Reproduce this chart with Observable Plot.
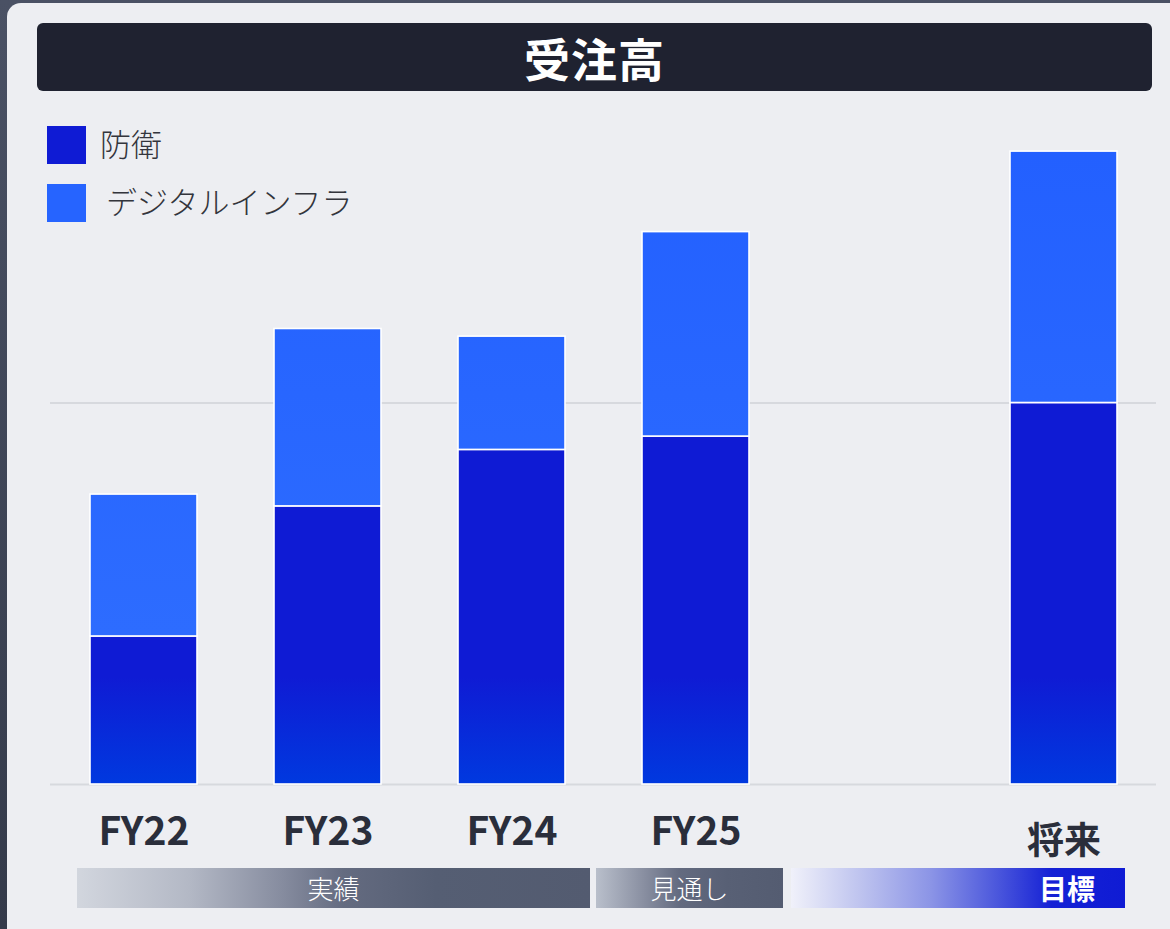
<!DOCTYPE html>
<html lang="ja">
<head>
<meta charset="utf-8">
<script src="https://cdn.jsdelivr.net/npm/d3@7"></script>
<script src="https://cdn.jsdelivr.net/npm/@observablehq/plot@0.6"></script>
<style>
  html, body { margin: 0; padding: 0; }
  body { width: 1170px; height: 929px; overflow: hidden; background: linear-gradient(to bottom, #4a5164, #343a4a); position: relative;
         font-family: "Noto Sans CJK JP", "Noto Sans", sans-serif; }
  #panel { position: absolute; left: 7px; top: 3px; width: 1180px; height: 940px; background: #edeef2; border-radius: 14px; }
  #title { position: absolute; left: 37px; top: 23px; width: 1115px; height: 68px; background: #1f2230; border-radius: 6px;
           color: #fff; font-weight: 700; font-size: 46px; line-height: 68px; text-align: center; letter-spacing: 1px; }
  .sw { position: absolute; left: 47px; width: 39px; height: 38px; }
  .lt { position: absolute; font-size: 31px; color: #33353c; line-height: 38px; font-weight: 300; }
  #chart { position: absolute; left: 0; top: 100px; }
  .band { position: absolute; top: 868px; height: 40px; color: #fff; font-size: 26px; line-height: 40px; text-align: center; font-weight: 300; }
</style>
</head>
<body>
<div id="panel"></div>
<div id="title">受注高</div>
<div id="legend"></div>
<div id="chart"></div>
<div id="bands"></div>
<script>
// ---- data ----
const years = ["FY22", "FY23", "FY24", "FY25", "将来"];
const slots = ["FY22", "FY23", "FY24", "FY25", "gap", "将来"];
const series = ["防衛", "デジタルインフラ"];
const defense = [388, 729, 877, 912, 1000];
const infra = [372, 465, 297, 536, 659];
const gridValues = [0, 1000];
const seriesColors = ["#0f1bd4", "#2664ff"];
const phases = ["実績", "見通し", "目標"];

const rows = years.flatMap((yr, i) => [
  {year: yr, series: series[0], value: defense[i]},
  {year: yr, series: series[1], value: infra[i]}
]);

// ---- legend ----
const legend = document.getElementById("legend");
series.forEach((s, i) => {
  const top = i === 0 ? 126 : 184;
  const sw = document.createElement("div");
  sw.className = "sw"; sw.style.top = top + "px"; sw.style.background = seriesColors[i];
  legend.appendChild(sw);
  const t = document.createElement("div");
  t.className = "lt"; t.style.top = (top - 2) + "px"; t.style.left = (i === 0 ? 100 : 106) + "px";
  t.textContent = s;
  legend.appendChild(t);
});

// ---- chart ----
const font = "Noto Sans CJK JP";
const defsMark = (index, scales) => {
  const defs = d3.create("svg:defs");
  const g1 = defs.append("linearGradient").attr("id", "gDef").attr("gradientUnits", "userSpaceOnUse")
    .attr("x1", 0).attr("x2", 0).attr("y1", scales.y(280)).attr("y2", scales.y(0));
  g1.append("stop").attr("offset", "0%").attr("stop-color", "#0f1bd4");
  g1.append("stop").attr("offset", "100%").attr("stop-color", "#0039df");
  const g2 = defs.append("linearGradient").attr("id", "gInf").attr("gradientUnits", "userSpaceOnUse")
    .attr("x1", 0).attr("x2", 0).attr("y1", scales.y(1650)).attr("y2", scales.y(400));
  g2.append("stop").attr("offset", "0%").attr("stop-color", "#2360ff");
  g2.append("stop").attr("offset", "100%").attr("stop-color", "#2d6cff");
  return defs.node();
};

const plot = Plot.plot({
  width: 1170,
  height: 760,
  marginLeft: 50,
  marginRight: 14,
  marginTop: 0,
  marginBottom: 0,
  style: {background: "transparent", overflow: "visible", fontFamily: font},
  x: {domain: slots, paddingInner: 0.42, paddingOuter: 0.21, axis: null},
  y: {domain: [0, 1000], range: [684, 302.5], axis: null},
  color: {domain: series, range: ["url(#gDef)", "url(#gInf)"]},
  marks: [
    defsMark,
    Plot.ruleY(gridValues, {stroke: "#d7d9de", strokeWidth: 2}),
    Plot.barY(rows, {x: "year", y: "value", fill: "series", order: series, stroke: "#ffffff", strokeWidth: 1.6}),
    Plot.text(years.filter(d => d !== "将来"), {x: d => d, y: d => 0, dy: 48, text: d => d,
      fontSize: 39, fontWeight: 700, fill: "#2a2e3b", fontFamily: font, lineAnchor: "middle"}),
    Plot.text(years.filter(d => d === "将来"), {x: d => d, y: d => 0, dy: 58, text: d => d,
      fontSize: 37, fontWeight: 700, fill: "#2a2e3b", fontFamily: font, lineAnchor: "middle"})
  ]
});
document.getElementById("chart").appendChild(plot);

// ---- phase bands ----
const bandSpecs = [
  {left: 77, width: 513, bg: "linear-gradient(to right, #d2d6de 0%, #b3b8c5 22%, #868c9f 40%, #646b80 52%, #555e73 70%, #535b70 100%)", align: "center"},
  {left: 596, width: 187, bg: "linear-gradient(to right, #b9bfcb 0%, #8a90a2 25%, #636a7f 45%, #586075 70%, #545c71 100%)", align: "center"},
  {left: 791, width: 334, bg: "linear-gradient(to right, #f0f1fa 0%, #c0c5ef 20%, #8b94e6 42%, #4a56dc 62%, #1521d5 78%, #0f1bd4 100%)", align: "right"}
];
const bands = document.getElementById("bands");
bandSpecs.forEach((b, i) => {
  const d = document.createElement("div");
  d.className = "band";
  d.style.left = b.left + "px"; d.style.width = b.width + "px"; d.style.background = b.bg;
  if (b.align === "right") {
    d.style.textAlign = "right"; d.style.paddingRight = "30px"; d.style.boxSizing = "border-box";
    d.style.fontWeight = "700"; d.style.fontSize = "28px";
  }
  d.textContent = phases[i];
  bands.appendChild(d);
});
</script>
</body>
</html>
